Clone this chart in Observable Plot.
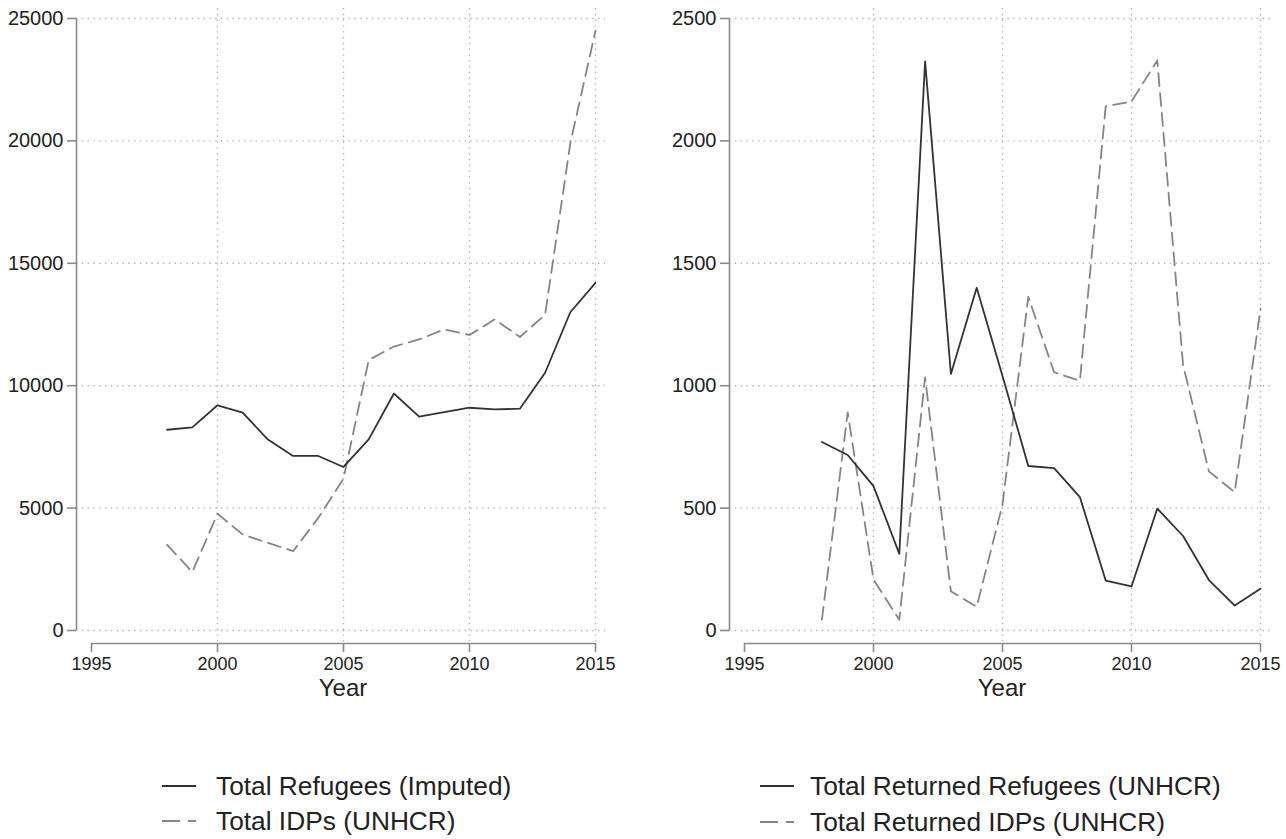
<!DOCTYPE html>
<html>
<head>
<meta charset="utf-8">
<script src="https://cdn.jsdelivr.net/npm/d3@7"></script>
<script src="https://cdn.jsdelivr.net/npm/@observablehq/plot@0.6"></script>
<style>
  body { margin: 0; background: #fff; font-family: "Liberation Sans", Arial, sans-serif; }
  #root { position: relative; width: 1286px; height: 839px; overflow: hidden; background: #fff; }
  .panel { position: absolute; top: 0; }
  .row { position: absolute; display: flex; align-items: center; white-space: nowrap; height: 34px; font-size: 26.3px; color: #222; }
  .row svg { flex: none; }
</style>
</head>
<body>
<div id="root"></div>
<script>
// ---- data ----
const years = [1998, 1999, 2000, 2001, 2002, 2003, 2004, 2005, 2006, 2007, 2008, 2009, 2010, 2011, 2012, 2013, 2014, 2015];
const refugeesImputed = [8200, 8300, 9200, 8900, 7800, 7130, 7130, 6680, 7810, 9680, 8740, 8920, 9100, 9030, 9060, 10530, 13000, 14200];
const idpsUnhcr = [3500, 2390, 4770, 3920, 3580, 3240, 4600, 6200, 11050, 11600, 11890, 12300, 12070, 12710, 11990, 12900, 19900, 24500];
const returnedRefugees = [770, 717, 590, 313, 2325, 1048, 1400, 1040, 672, 663, 545, 204, 180, 498, 386, 206, 102, 171];
const returnedIdps = [44, 891, 208, 44, 1034, 160, 97, 515, 1363, 1055, 1020, 2141, 2161, 2329, 1084, 650, 565, 1315];

const xTicks = [1995, 2000, 2005, 2010, 2015];
const xGridTicks = [2000, 2005, 2010, 2015];
const leftYTicks = [0, 5000, 10000, 15000, 20000, 25000];
const rightYTicks = [0, 500, 1000, 1500, 2000, 2500];
const xLabel = "Year";
const leftLegend = ["Total Refugees (Imputed)", "Total IDPs (UNHCR)"];
const rightLegend = ["Total Returned Refugees (UNHCR)", "Total Returned IDPs (UNHCR)"];

const toRows = (vals) => years.map((year, i) => ({year, value: vals[i]}));

function panel({yTicks, solid, dashed, width, marginLeft, marginRight}) {
  const yMax = yTicks[yTicks.length - 1];
  const gridStyle = {stroke: "#b3b3b3", strokeOpacity: 1, strokeWidth: 1.4, strokeDasharray: "1.4,4.4"};
  return Plot.plot({
    width, height: 720,
    marginLeft, marginRight, marginTop: 8, marginBottom: 77,
    insetLeft: 15, insetRight: 10, insetTop: 10, insetBottom: 13,
    x: {domain: [1995, 2015]},
    y: {domain: [0, yMax]},
    style: {fontFamily: "'Liberation Sans', Arial, sans-serif", fontSize: "18px", color: "#222", background: "#fff", overflow: "visible"},
    marks: [
      Plot.gridY(yTicks, gridStyle),
      Plot.gridX(xGridTicks, gridStyle),
      Plot.ruleX([1995], {y1: 0, y2: yMax, dx: -15, stroke: "#8a8a8a", strokeWidth: 1.6}),
      Plot.ruleY([0], {x1: 1995, x2: 2015, dy: 13, stroke: "#8a8a8a", strokeWidth: 1.6}),
      Plot.axisY(yTicks, {tickSize: 9, tickPadding: 4, tickFormat: d => String(d), stroke: "#8a8a8a", strokeWidth: 1.6, fill: "#222", label: null, fontSize: 20}),
      Plot.axisX(xTicks, {tickSize: 9, tickPadding: 5, tickFormat: d => String(d), stroke: "#8a8a8a", strokeWidth: 1.6, fill: "#222", label: null, fontSize: 18}),
      Plot.text([xLabel], {frameAnchor: "bottom", dy: 52, dx: 2, fontSize: 24, fill: "#222"}),
      Plot.line(toRows(dashed), {x: "year", y: "value", stroke: "#858585", strokeWidth: 1.8, strokeDasharray: "13,7"}),
      Plot.line(toRows(solid), {x: "year", y: "value", stroke: "#333", strokeWidth: 1.8})
    ]
  });
}

const root = document.getElementById("root");

const left = panel({yTicks: leftYTicks, solid: refugeesImputed, dashed: idpsUnhcr, width: 640, marginLeft: 76, marginRight: 35});
left.classList.add("panel");
left.style.left = "0px";
root.appendChild(left);

const right = panel({yTicks: rightYTicks, solid: returnedRefugees, dashed: returnedIdps, width: 646, marginLeft: 89, marginRight: 16});
right.classList.add("panel");
right.style.left = "640px";
root.appendChild(right);

function legendRow(x, y, label, dashed, textX) {
  const row = document.createElement("div");
  row.className = "row";
  row.style.left = x + "px";
  row.style.top = (y - 17) + "px";
  const w = 34;
  const svg = `<svg width="${w}" height="4" style="margin-right:${textX - x - w}px"><line x1="0" y1="2" x2="${w}" y2="2" stroke="${dashed ? "#858585" : "#333"}" stroke-width="2" ${dashed ? 'stroke-dasharray="18,8"' : ''}/></svg>`;
  row.innerHTML = svg + `<span>${label}</span>`;
  root.appendChild(row);
}
legendRow(162, 786, leftLegend[0], false, 216);
legendRow(162, 821, leftLegend[1], true, 216);
legendRow(760, 786, rightLegend[0], false, 810);
legendRow(760, 822, rightLegend[1], true, 810);
</script>
</body>
</html>
